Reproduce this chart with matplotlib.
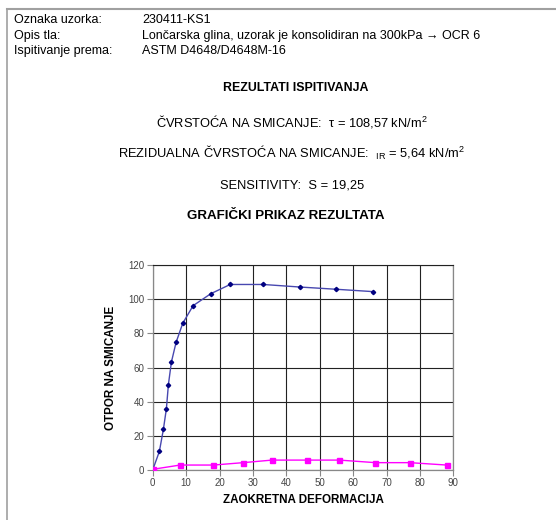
import matplotlib
matplotlib.use("Agg")
import matplotlib.pyplot as plt
from matplotlib.lines import Line2D

plt.rcParams['font.family'] = ['Liberation Sans', 'DejaVu Sans']
plt.rcParams['mathtext.fontset'] = 'custom'
plt.rcParams['mathtext.rm'] = 'Liberation Sans'
plt.rcParams['mathtext.it'] = 'Liberation Sans'

# header info
info_labels = ["Oznaka uzorka:", "Opis tla:", "Ispitivanje prema:"]
info_values = ["230411-KS1",
               "Lončarska glina, uzorak je konsolidiran na 300kPa \u2192 OCR 6",
               "ASTM D4648/D4648M-16"]

# shear resistance vs rotational deformation
peak_x = [0, 2, 3.2, 4.1, 4.7, 5.6, 7.0, 9.0, 12.1, 17.4, 23.2, 33.1, 44.1, 54.9, 66.1]
peak_y = [0, 10.9, 23.8, 35.9, 50.0, 63.2, 74.7, 85.9, 96.2, 103.2, 108.6, 108.6, 107.1, 105.8, 104.4]
resid_x = [0, 8.2, 18.2, 27.1, 35.7, 46.1, 55.9, 66.7, 77.0, 88.0]
resid_y = [0.4, 2.9, 2.9, 4.3, 5.8, 5.8, 5.8, 4.3, 4.3, 2.9]

W, H = 556, 520
fig = plt.figure(figsize=(W / 100, H / 100), dpi=100)


def px(x, y):
    return x / W, 1 - y / H


# page frame (top + left edges)
fig.add_artist(Line2D([7 / W, 1], [1 - 9 / H, 1 - 9 / H], color="#a0a0a0", lw=1.5))
fig.add_artist(Line2D([7 / W, 7 / W], [1 - 9 / H, 0], color="#a0a0a0", lw=1.2))

fs = 9
for i, (lab, val) in enumerate(zip(info_labels, info_values)):
    y = 20 + i * 15.5
    fig.text(*px(14, y), lab, fontsize=fs, va="center", ha="left")
    fig.text(*px(142, y), val, fontsize=fs, va="center", ha="left")

cx = 292
fs2 = 9.3
fig.text(*px(296, 88), "REZULTATI ISPITIVANJA", fontsize=8.9, fontweight="bold", ha="center", va="center")
fig.text(*px(cx, 122), "ČVRSTOĆA NA SMICANJE:  $\\tau$ = 108,57 kN/m$^2$",
         fontsize=fs2, ha="center", va="center")
fig.text(*px(cx, 153), "REZIDUALNA ČVRSTOĆA NA SMICANJE:  $_{\\mathrm{IR}}$ = 5,64 kN/m$^2$",
         fontsize=fs2, ha="center", va="center")
fig.text(*px(cx, 185), "SENSITIVITY:  S = 19,25", fontsize=fs2, ha="center", va="center")
fig.text(*px(286, 216), "GRAFIČKI PRIKAZ REZULTATA", fontsize=9.6, fontweight="bold", ha="center", va="center")

# chart
ax = fig.add_axes([152.7 / W, 50 / H, 300.6 / W, 205 / H])
ax.plot(peak_x, peak_y, color="#4848b0", lw=1.0, marker="D", ms=2.2,
        mfc="#000080", mec="#000080", zorder=3)
ax.plot(resid_x, resid_y, color="#ff00ff", lw=1.0, marker="s", ms=3.6,
        mfc="#ff00ff", mec="#ff00ff", zorder=3)

ax.set_xlim(0, 90)
ax.set_ylim(0, 120)
ax.set_xticks(range(0, 91, 10))
ax.set_yticks(range(0, 121, 20))
ax.grid(True, color="#222222", lw=0.8)
ax.set_axisbelow(True)
for s in ["left", "bottom", "right"]:
    ax.spines[s].set_color("#888888")
    ax.spines[s].set_linewidth(0.9)
ax.spines["top"].set_color("#222222")
ax.spines["top"].set_linewidth(0.8)
ax.tick_params(labelsize=7, labelcolor="#444444", color="#888888", length=4, width=0.8, pad=2)

ax.set_xlabel("ZAOKRETNA DEFORMACIJA", fontsize=8.4, fontweight="bold", labelpad=4)
ax.set_ylabel("OTPOR NA SMICANJE", fontsize=8.4, fontweight="bold", labelpad=8)

fig.savefig("out.png", dpi=100)
